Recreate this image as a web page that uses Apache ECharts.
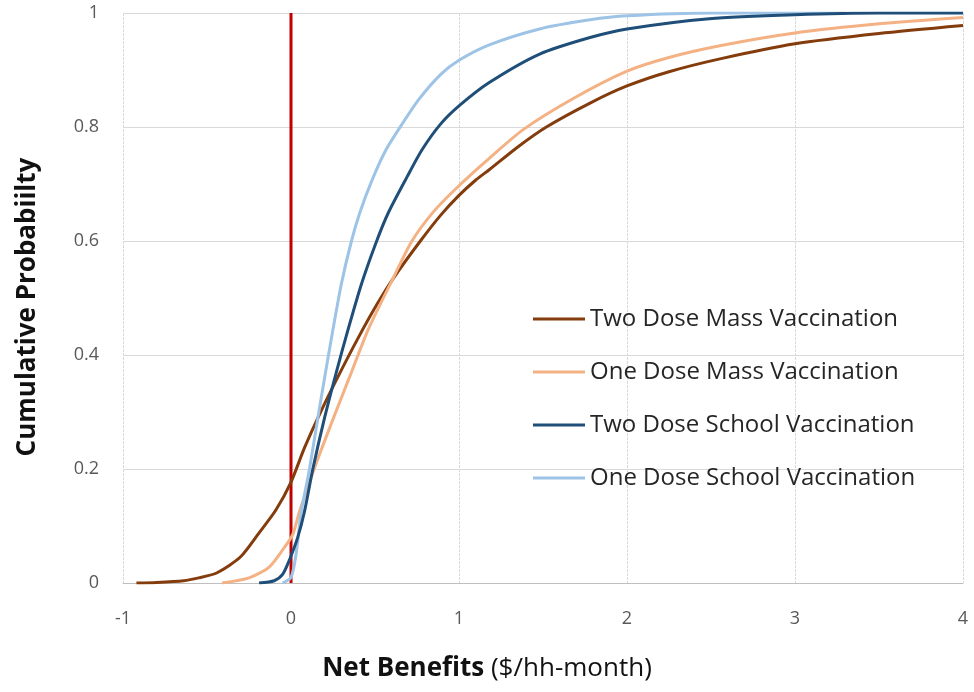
<!DOCTYPE html>
<html>
<head>
<meta charset="utf-8">
<script src="https://cdn.jsdelivr.net/npm/echarts@6/dist/echarts.min.js"></script>
<style>
html,body{margin:0;padding:0;background:#fff;}
#chart{width:974px;height:692px;}
</style>
</head>
<body>
<div id="chart"></div>
<script>
// Data: [net benefit, cumulative probability]
const twoDoseMass = [[-0.92,0],[-0.8,0.001],[-0.64,0.004],[-0.55,0.009],[-0.44,0.018],[-0.3,0.046],[-0.19,0.088],[-0.09,0.128],[0,0.177],[0.08,0.237],[0.17,0.296],[0.28,0.362],[0.4,0.43],[0.51,0.488],[0.61,0.535],[0.77,0.6],[0.89,0.645],[1,0.68],[1.1,0.707],[1.18,0.725],[1.35,0.765],[1.52,0.8],[1.78,0.842],[2,0.872],[2.25,0.897],[2.56,0.92],[3,0.946],[3.5,0.964],[4,0.978]];
const oneDoseMass = [[-0.41,0],[-0.25,0.009],[-0.13,0.028],[-0.05,0.058],[0.01,0.085],[0.05,0.125],[0.15,0.21],[0.26,0.295],[0.36,0.37],[0.46,0.445],[0.6,0.53],[0.72,0.6],[0.85,0.652],[1,0.697],[1.18,0.745],[1.38,0.795],[1.68,0.85],[2,0.898],[2.25,0.922],[2.56,0.943],[3,0.965],[3.5,0.981],[4,0.992]];
const twoDoseSchool = [[-0.19,0],[-0.1,0.004],[-0.05,0.015],[-0.01,0.04],[0.04,0.08],[0.08,0.125],[0.13,0.2],[0.2,0.29],[0.27,0.37],[0.34,0.445],[0.42,0.525],[0.51,0.6],[0.58,0.65],[0.69,0.712],[0.78,0.76],[0.89,0.805],[1,0.837],[1.18,0.878],[1.48,0.928],[1.78,0.957],[2,0.972],[2.49,0.99],[3,0.997],[3.5,1],[4,1]];
const oneDoseSchool = [[-0.05,0],[0,0.01],[0.03,0.05],[0.06,0.123],[0.11,0.2],[0.16,0.29],[0.2,0.36],[0.25,0.445],[0.3,0.525],[0.36,0.6],[0.41,0.65],[0.48,0.705],[0.56,0.757],[0.65,0.8],[0.76,0.848],[0.89,0.892],[1,0.917],[1.18,0.944],[1.48,0.972],[1.78,0.988],[2,0.995],[2.5,1],[3.3,1]];
const zeroLine = [[0,0],[0,1]];
const seriesNames = ['Two Dose Mass Vaccination','One Dose Mass Vaccination','Two Dose School Vaccination','One Dose School Vaccination'];
const xTicks = [-1,0,1,2,3,4];
const yTicks = [0,0.2,0.4,0.6,0.8,1];

const FONT = '"Open Sans", "Noto Sans", sans-serif';
const colors = ['#843C0C','#F4B183','#1F4E79','#9DC3E6'];
const dataSets = [twoDoseMass, oneDoseMass, twoDoseSchool, oneDoseSchool];
const zOrder = [3,4,6,5];

const chart = echarts.init(document.getElementById('chart'), null, {renderer:'canvas'});
const series = dataSets.map((d,i)=>({
  name: seriesNames[i], type:'line', data:d, showSymbol:false, symbol:'none',
  smooth:0.25, lineStyle:{color:colors[i], width:3}, itemStyle:{color:colors[i]}, z: zOrder[i], animation:false
}));
series.push({name:'zero', type:'line', data:zeroLine, showSymbol:false, symbol:'none',
  lineStyle:{color:'#C00000', width:3}, z:2, animation:false});

chart.setOption({
  animation:false,
  backgroundColor:'#fff',
  grid:{left:123, right:11, top:13, bottom:109, show:false},
  legend:{
    data: seriesNames.map((n,i)=>({name:n, icon:'rect', itemStyle:{color:colors[i]}})),
    orient:'vertical', left:528, top:302, itemWidth:52, itemHeight:3, itemGap:29,
    itemTextGap:8,
    textStyle:{fontFamily:FONT, fontSize:24, color:'#262626'}
  },
  xAxis:{
    type:'value', min:-1, max:4, interval:1,
    name:'{b|Net Benefits} ($/hh-month)', nameLocation:'middle', nameGap:73,
    nameTextStyle:{fontFamily:FONT, fontSize:26, color:'#111', padding:[0,112,0,0],
      rich:{b:{fontFamily:FONT, fontSize:26, fontWeight:'bold', color:'#111'}}},
    axisLine:{show:true, lineStyle:{color:'#BFBFBF', width:1}},
    axisTick:{show:false},
    axisLabel:{fontFamily:FONT, fontSize:18, color:'#595959', margin:27,
      formatter:v=>xTicks.indexOf(v)>=0?String(v):''},
    splitLine:{show:true, lineStyle:{color:'#D9D9D9', width:1, type:[3,1]}}
  },
  yAxis:{
    type:'value', min:0, max:1, interval:0.2,
    name:'Cumulative Probabiilty', nameLocation:'middle', nameGap:82,
    nameTextStyle:{fontFamily:FONT, fontSize:26, fontWeight:'bold', color:'#111', padding:[0,18,0,0]},
    axisLine:{show:true, lineStyle:{color:'#D9D9D9', width:1}},
    axisTick:{show:false},
    axisLabel:{fontFamily:FONT, fontSize:18, color:'#595959', margin:24,
      formatter:v=>{const t=yTicks.find(k=>Math.abs(k-v)<1e-9); return t===undefined?'':String(t);}},
    splitLine:{show:true, lineStyle:{color:'#D9D9D9', width:1}}
  },
  series: series
});
</script>
</body>
</html>
